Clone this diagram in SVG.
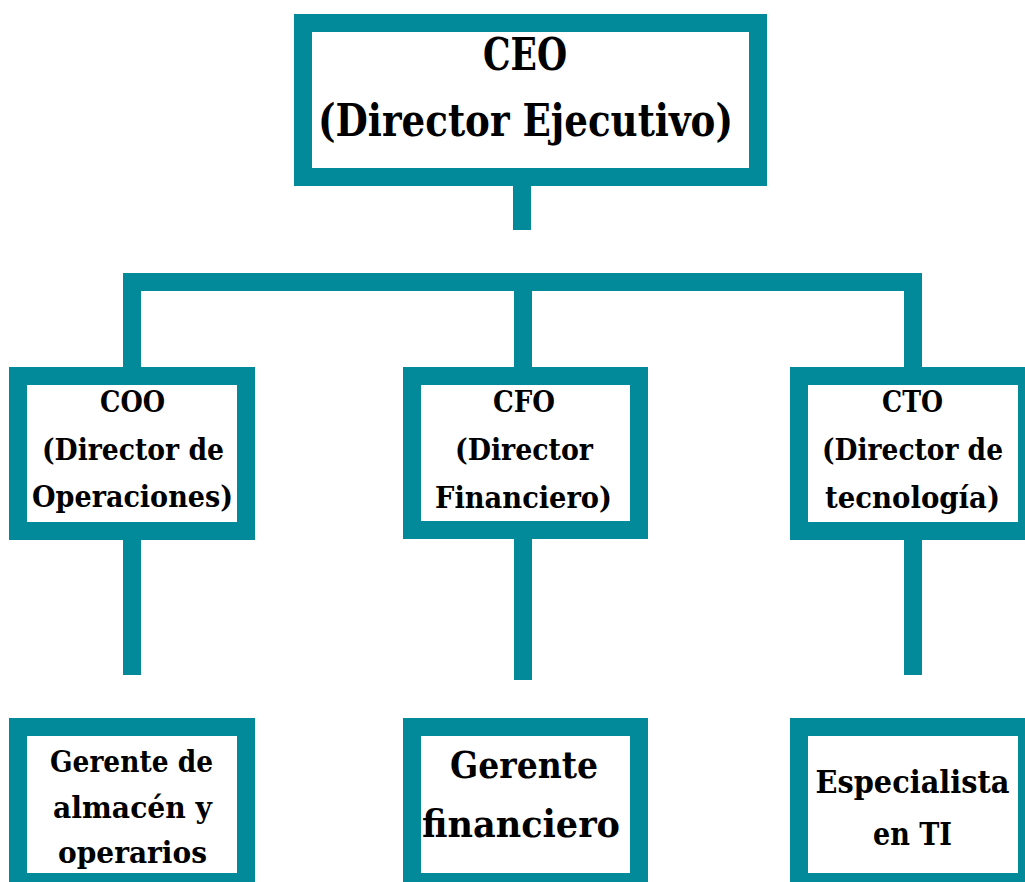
<svg xmlns="http://www.w3.org/2000/svg" width="1025" height="882" viewBox="0 0 1025 882">
<style>
.box{fill:#fff;stroke:#028a9b;stroke-width:18}
.ln{fill:none;stroke:#028a9b;stroke-width:18;stroke-linejoin:miter;stroke-linecap:butt}
text{font-family:"DejaVu Serif","Liberation Serif",serif;font-weight:bold;fill:#000;text-anchor:middle}
.t1{font-size:44px}
.t2{font-size:30px}
.t3{font-size:38px}
.t4{font-size:31px}
</style>
<rect width="1025" height="882" fill="#fff"/>
<g id="connectors">
<path class="ln" d="M522,186 V230"/>
<path class="ln" d="M132,367 V282 H913 V367"/>
<path class="ln" d="M523,291 V367"/>
<path class="ln" d="M132,540 V675"/>
<path class="ln" d="M523,539 V680"/>
<path class="ln" d="M913,540 V675"/>
</g>
<g id="ceo">
<rect class="box" x="303" y="23" width="455" height="154"/>
<text class="t1" x="525" y="70" textLength="84" lengthAdjust="spacingAndGlyphs">CEO</text>
<text class="t1" x="525.5" y="136" textLength="415" lengthAdjust="spacingAndGlyphs">(Director Ejecutivo)</text>
</g>
<g id="coo">
<rect class="box" x="18" y="376" width="228" height="155"/>
<text class="t2" x="132.5" y="412" textLength="65" lengthAdjust="spacingAndGlyphs">COO</text>
<text class="t2" x="133" y="460" textLength="182" lengthAdjust="spacingAndGlyphs">(Director de</text>
<text class="t2" x="132.5" y="507" textLength="201" lengthAdjust="spacingAndGlyphs">Operaciones)</text>
</g>
<g id="cfo">
<rect class="box" x="412" y="376" width="227" height="154"/>
<text class="t2" x="524" y="412" textLength="62" lengthAdjust="spacingAndGlyphs">CFO</text>
<text class="t2" x="524" y="460" textLength="138" lengthAdjust="spacingAndGlyphs">(Director</text>
<text class="t2" x="523.5" y="508" textLength="177" lengthAdjust="spacingAndGlyphs">Financiero)</text>
</g>
<g id="cto">
<rect class="box" x="799" y="376" width="228" height="155"/>
<text class="t2" x="912.5" y="412" textLength="61" lengthAdjust="spacingAndGlyphs">CTO</text>
<text class="t2" x="912.5" y="460" textLength="181" lengthAdjust="spacingAndGlyphs">(Director de</text>
<text class="t2" x="912.5" y="508" textLength="175" lengthAdjust="spacingAndGlyphs">tecnología)</text>
</g>
<g id="gerente-almacen">
<rect class="box" x="18" y="727" width="228" height="155"/>
<text class="t2" x="131.5" y="772" textLength="163" lengthAdjust="spacingAndGlyphs">Gerente de</text>
<text class="t2" x="132.5" y="818" textLength="159" lengthAdjust="spacingAndGlyphs">almacén y</text>
<text class="t2" x="132.5" y="863" textLength="149" lengthAdjust="spacingAndGlyphs">operarios</text>
</g>
<g id="gerente-financiero">
<rect class="box" x="412" y="727" width="227" height="155"/>
<text class="t3" x="524" y="778" textLength="148" lengthAdjust="spacingAndGlyphs">Gerente</text>
<text class="t3" x="521" y="837" textLength="198" lengthAdjust="spacingAndGlyphs">financiero</text>
</g>
<g id="especialista-ti">
<rect class="box" x="799" y="727" width="228" height="155"/>
<text class="t4" x="912.5" y="793" textLength="194" lengthAdjust="spacingAndGlyphs">Especialista</text>
<text class="t4" x="912.5" y="845" textLength="79" lengthAdjust="spacingAndGlyphs">en TI</text>
</g>
</svg>
